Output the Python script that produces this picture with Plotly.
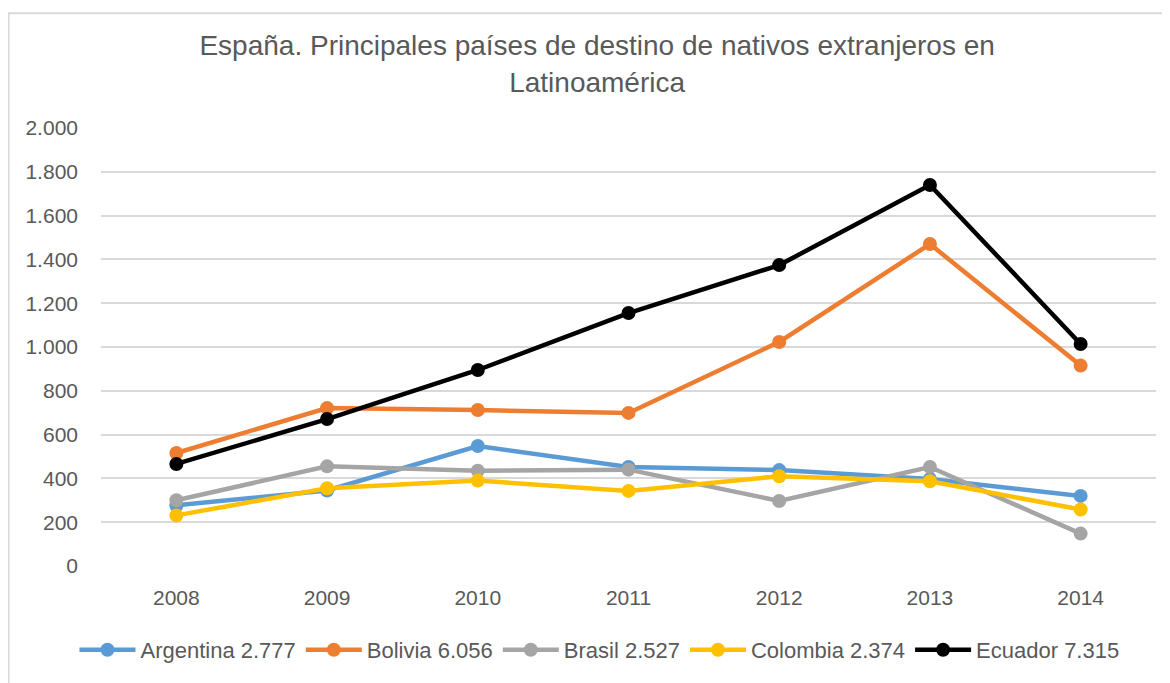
import plotly.graph_objects as go

years = ["2008", "2009", "2010", "2011", "2012", "2013", "2014"]
argentina = [277, 345, 548, 452, 438, 397, 320]
bolivia = [516, 721, 712, 699, 1023, 1470, 915]
brasil = [300, 455, 435, 440, 297, 452, 148]
colombia = [231, 355, 390, 343, 410, 387, 258]
ecuador = [466, 671, 895, 1155, 1374, 1740, 1014]

series = [
    ("Argentina 2.777", argentina, "#5B9BD5"),
    ("Bolivia 6.056", bolivia, "#ED7D31"),
    ("Brasil 2.527", brasil, "#A5A5A5"),
    ("Colombia 2.374", colombia, "#FFC000"),
    ("Ecuador 7.315", ecuador, "#000000"),
]

fig = go.Figure()
for name, vals, col in series:
    fig.add_trace(go.Scatter(
        x=years, y=vals, name=name, mode="lines+markers",
        line=dict(color=col, width=4.5),
        marker=dict(color=col, size=14),
    ))

tickvals = list(range(0, 2001, 200))
ticktext = [f"{v:,}".replace(",", ".") for v in tickvals]

fig.update_layout(
    width=1162, height=675,
    paper_bgcolor="white", plot_bgcolor="white",
    margin=dict(l=93, r=14, t=120, b=117),
    font=dict(family="Liberation Sans, Arial", color="#595959", size=21),
    title=dict(
        text="España. Principales países de destino de nativos extranjeros en<br>Latinoamérica",
        xref="container", x=0.507, xanchor="center",
        yref="container", y=0.93, yanchor="top",
        font=dict(size=28, color="#595959"),
    ),
    xaxis=dict(showgrid=False, showline=False, range=[-0.5, 6.5],
               ticks="", ticklabelstandoff=17, tickfont=dict(size=21, color="#595959")),
    yaxis=dict(range=[0, 2000], tickvals=tickvals, ticktext=ticktext,
               showgrid=True, gridcolor="#D9D9D9", gridwidth=1.5,
               zeroline=False, showline=False, ticks="", ticklabelstandoff=22,
               tickfont=dict(size=21, color="#595959")),
    legend=dict(orientation="h", xref="container", x=0.509, xanchor="center",
                yref="container", y=0.049, yanchor="middle",
                font=dict(size=22, color="#595959"), itemwidth=56,
                tracegroupgap=0),
    shapes=[dict(type="rect", xref="paper", yref="paper",
                 x0=-0.0876, x1=1.05, y0=-0.3, y1=1.262,
                 line=dict(color="#D9D9D9", width=2), fillcolor="rgba(0,0,0,0)")],
)

fig.write_html("out.html")
